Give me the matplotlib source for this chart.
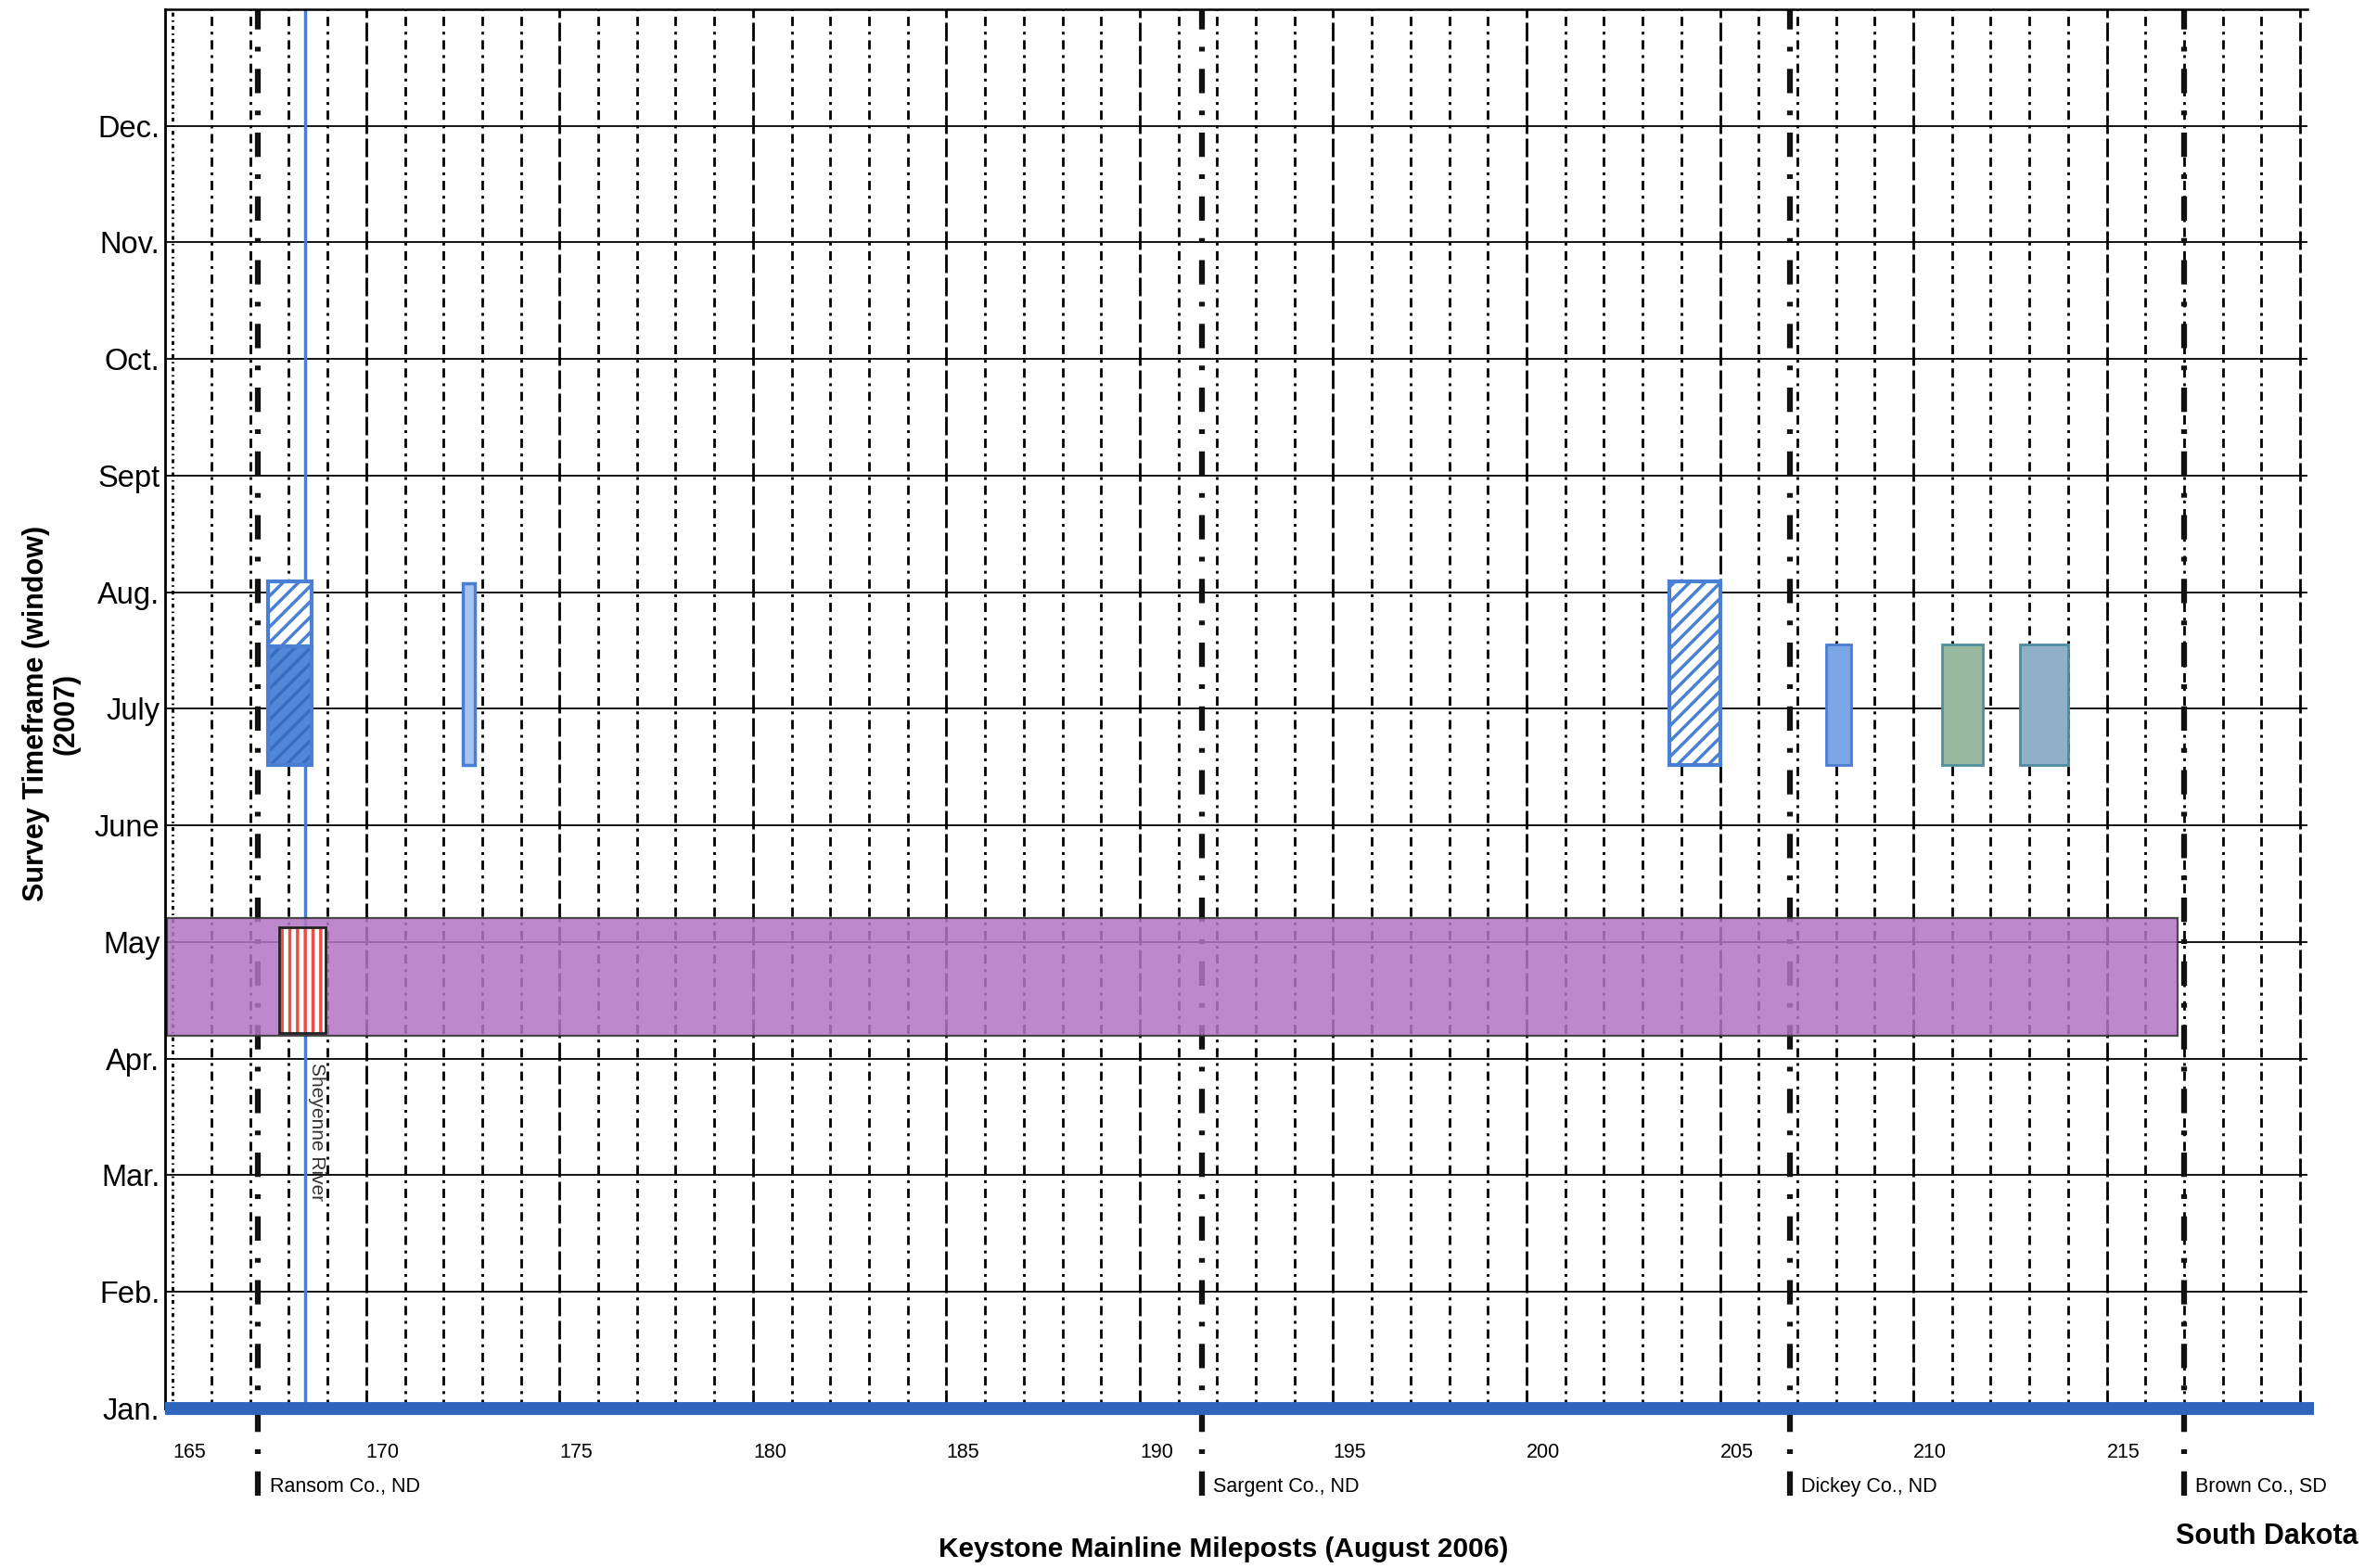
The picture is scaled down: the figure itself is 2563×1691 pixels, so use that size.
import matplotlib
matplotlib.use('Agg')
import matplotlib.pyplot as plt

plt.rcParams['font.family'] = ['Liberation Sans', 'DejaVu Sans']
plt.rcParams['hatch.linewidth'] = 2.5

# ---------------- data ----------------
months = ["Jan.", "Feb.", "Mar.", "Apr.", "May", "June", "July",
          "Aug.", "Sept", "Oct.", "Nov.", "Dec."]
month_pos = list(range(12))

milepost_ticks = [165, 170, 175, 180, 185, 190, 195, 200, 205, 210, 215]
milepost_labels = [str(m) for m in milepost_ticks]
grid_miles = list(range(165, 221))

county_names = ["Ransom Co., ND", "Sargent Co., ND", "Dickey Co., ND", "Brown Co., SD"]
county_miles = [167.2, 191.6, 206.8, 217.0]

river_name = "Sheyenne River"
river_mile = 168.42

# survey windows (milepost range, month range)
win_start = [164.84, 167.75, 167.45, 167.45, 172.5, 203.7, 207.75, 210.75, 212.75]
win_end   = [216.83, 168.95, 168.6, 168.6, 172.8, 205.0, 208.4, 211.8, 214.0]
win_from  = [3.2, 3.22, 5.52, 6.54, 5.52, 5.52, 5.52, 5.52, 5.52]
win_to    = [4.21, 4.13, 6.54, 7.09, 7.08, 7.09, 6.55, 6.55, 6.55]

# styles for each window
win_face  = ['#b476c4', 'white', '#5189d8', 'white', '#a9c4ee', 'white', '#7ba6e6', '#98b8a0', '#8fb0c6']
win_hatch = [None, '||', '//', '//', None, '//', None, None, None]
win_hcol  = [None, '#e8504a', '#3a6dc2', '#4a80d4', None, '#4a80d4', None, None, None]
win_edge  = ['#333333', '#222222', '#4a80d4', '#4a80d4', '#4a80d4', '#4a80d4', '#4a7fd0', '#4f8f9f', '#4d8ba0']
win_lw    = [1.6, 2.0, 3.0, 3.0, 2.5, 3.0, 2.0, 2.0, 2.0]
win_alpha = [0.86, 1, 1, 1, 1, 1, 1, 1, 1]

# ---------------- figure ----------------
fig = plt.figure(figsize=(25.63, 16.91), dpi=100)
ax = fig.add_axes([0.06945, 0.10172, 0.90129, 0.89237])
ax.set_xlim(164.8, 220.19)
ax.set_ylim(0, 12)

for s in ['right', 'bottom']:
    ax.spines[s].set_visible(False)
ax.spines['left'].set_linewidth(2.0)
ax.spines['top'].set_linewidth(1.8)
ax.spines['left'].set_zorder(6)

# month gridlines
for y in month_pos[1:]:
    ax.axhline(y, color='black', lw=1.3, zorder=1)

# milepost gridlines
for m in grid_miles:
    if m == 165:
        ls = (0, (1.5, 1.5, 0.6, 1.5))
    elif m % 5 == 0:
        ls = (0, (7.2, 1.8))
    else:
        ls = (0, (3.6, 2.2, 1.1, 2.2))
    ax.axvline(m, color='black', lw=2.0, linestyle=ls, zorder=1)

# county boundaries
ax.vlines(county_miles, -0.75, 12, colors='#111111', lw=4.5,
          linestyles=[(0, (4.2, 3.0, 0.8, 3.0))], clip_on=False, zorder=2)
for name, cm in zip(county_names, county_miles):
    ax.text(cm + 0.3, -0.67, name, ha='left', va='center', fontsize=15.5,
            clip_on=False)

# river
ax.axvline(river_mile, color='#4a7fd0', lw=2.5, zorder=2)
ax.text(river_mile + 0.07, 2.97, river_name, rotation=270, ha='left', va='top',
        fontsize=15, color='#333333', zorder=3)

# survey windows
for i in range(len(win_start)):
    w = win_end[i] - win_start[i]
    h = win_to[i] - win_from[i]
    if win_hatch[i]:
        ax.bar(win_start[i], h, width=w, bottom=win_from[i], align='edge',
               color=win_face[i], edgecolor=win_hcol[i], hatch=win_hatch[i],
               linewidth=0, zorder=4 + i * 0.01)
        ax.bar(win_start[i], h, width=w, bottom=win_from[i], align='edge',
               fill=False, edgecolor=win_edge[i], linewidth=win_lw[i],
               zorder=4.005 + i * 0.01)
    else:
        ax.bar(win_start[i], h, width=w, bottom=win_from[i], align='edge',
               color=win_face[i], edgecolor=win_edge[i], linewidth=win_lw[i],
               alpha=win_alpha[i], zorder=3 + i * 0.01 if i == 0 else 4 + i * 0.01)

# pipeline baseline (January line)
ax.axhline(0, xmin=0, xmax=1.003, color='#2f66bb', lw=10, zorder=7,
           clip_on=False, solid_capstyle='butt')

# ticks
ax.set_xticks(milepost_ticks, milepost_labels, ha='left', fontsize=15.5)
ax.tick_params(axis='x', length=0, pad=27)
ax.set_yticks(month_pos, months, fontsize=23.5)
ax.tick_params(axis='y', length=0, pad=4)

# labels
fig.text(0.02146, 0.5447, "Survey Timeframe (window)\n(2007)", rotation=90,
         ha='center', va='center', fontsize=22, fontweight='bold', linespacing=1.1)
fig.text(0.5146, 0.0118, "Keystone Mainline Mileposts (August 2006)",
         ha='center', va='center', fontsize=21.5, fontweight='bold')
fig.text(0.9536, 0.0201, "South Dakota", ha='center', va='center',
         fontsize=22, fontweight='bold')

fig.savefig('out.png', dpi=100)
